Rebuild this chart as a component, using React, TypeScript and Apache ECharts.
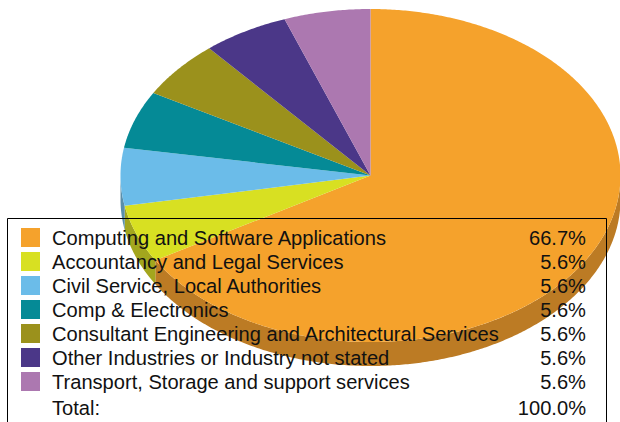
import React, { useEffect, useRef } from "react";
import * as echarts from "echarts";

const categories = [
  "Computing and Software Applications",
  "Accountancy and Legal Services",
  "Civil Service, Local Authorities",
  "Comp & Electronics",
  "Consultant Engineering and Architectural Services",
  "Other Industries or Industry not stated",
  "Transport, Storage and support services",
];
const values = [66.7, 5.6, 5.6, 5.6, 5.6, 5.6, 5.6];
const valueLabels = ["66.7%", "5.6%", "5.6%", "5.6%", "5.6%", "5.6%", "5.6%"];
const totalLabel = "Total:";
const totalValue = "100.0%";
const colors = ["#F5A22C", "#D8E022", "#6BBCE9", "#058A96", "#9B911C", "#4B3788", "#AC78B0"];
const sideColors = ["#BC7B24", "#A3A61E", "#5A8FAB", "#05707A", "#7A7216", "#3A2A6A", "#875E8A"];

const CX = 370.5;
const CY = 175.5;
const RX = 250;
const RY = 166.5;
const DEPTH = 24;
const FONT = "'Liberation Sans', Arial, sans-serif";

const sum = values.reduce((a, b) => a + b, 0);
const angleRange = (i: number) => {
  let before = 0;
  for (let k = 0; k < i; k++) before += values[k];
  return [(before / sum) * 360, ((before + values[i]) / sum) * 360];
};
const rim = (deg: number, dy = 0) => {
  const a = (deg * Math.PI) / 180;
  return [CX + RX * Math.sin(a), CY + dy - RY * Math.cos(a)];
};
const arc = (from: number, to: number, dy = 0) => {
  const out: number[][] = [];
  const n = Math.max(2, Math.ceil((to - from) * 2));
  for (let k = 0; k <= n; k++) out.push(rim(from + ((to - from) * k) / n, dy));
  return out;
};

export default function App() {
  const ref = useRef<HTMLDivElement>(null);
  useEffect(() => {
    document.body.style.margin = "0";
    const chart = echarts.init(ref.current!, undefined, { renderer: "svg" });
    const rowY = (i: number) => 238 + i * 24;
    const graphics: any[] = [];
    const textStyle = (text: string, align: string) => ({
      text,
      fill: "#111",
      font: `20.1px ${FONT}`,
      textAlign: align,
      textVerticalAlign: "middle",
    });
    categories.forEach((c, i) => {
      graphics.push({
        type: "rect",
        shape: { x: 21, y: rowY(i) - 10, width: 19, height: 19 },
        style: { fill: colors[i] },
        z: 10,
      });
      graphics.push({ type: "text", x: 52, y: rowY(i), style: textStyle(c, "left"), z: 10 });
      graphics.push({ type: "text", x: 586, y: rowY(i), style: textStyle(valueLabels[i], "right"), z: 10 });
    });
    graphics.push({ type: "text", x: 52, y: 408, style: textStyle(totalLabel, "left"), z: 10 });
    graphics.push({ type: "text", x: 586, y: 408, style: textStyle(totalValue, "right"), z: 10 });
    graphics.push({
      type: "rect",
      shape: { x: 7.5, y: 218.5, width: 599, height: 240 },
      style: { fill: "none", stroke: "#000", lineWidth: 1 },
      z: 10,
    });
    const data = values.map((v, i) => ({ name: categories[i], value: v }));
    chart.setOption({
      animation: false,
      series: [
        {
          type: "custom",
          coordinateSystem: "none",
          silent: true,
          data,
          z: 1,
          renderItem: (params: any) => {
            const [s, e] = angleRange(params.dataIndex);
            const from = Math.max(s, 90);
            const to = Math.min(e, 270);
            if (to <= from) return { type: "group", children: [] };
            const top = arc(from, to);
            const bottom = arc(from, to, DEPTH).reverse();
            return {
              type: "polygon",
              shape: { points: top.concat(bottom) },
              style: { fill: sideColors[params.dataIndex] },
            };
          },
        },
        {
          type: "custom",
          coordinateSystem: "none",
          silent: true,
          data,
          z: 2,
          renderItem: (params: any) => {
            const [s, e] = angleRange(params.dataIndex);
            return {
              type: "polygon",
              shape: { points: [[CX, CY], ...arc(s, e)] },
              style: { fill: colors[params.dataIndex] },
            };
          },
        },
      ],
      graphic: { elements: graphics },
    });
    return () => chart.dispose();
  }, []);
  return <div ref={ref} style={{ position: "fixed", left: 0, top: 0, width: 620, height: 422, background: "#fff" }} />;
}
